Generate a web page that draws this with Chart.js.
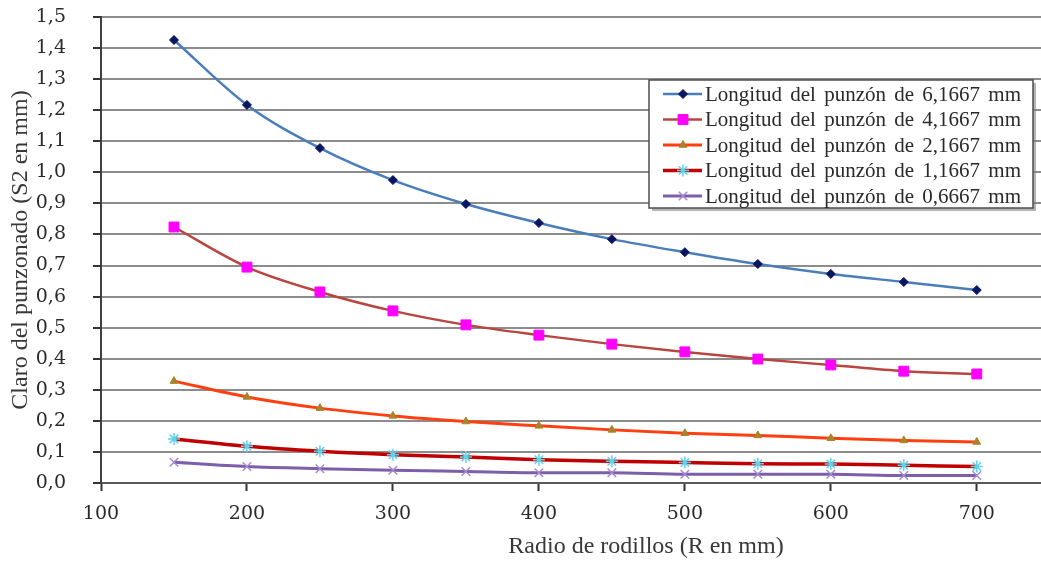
<!DOCTYPE html>
<html><head><meta charset="utf-8">
<script src="https://cdn.jsdelivr.net/npm/chart.js@4.4.1/dist/chart.umd.min.js"></script>
<style>html,body{margin:0;padding:0;background:#fff;overflow:hidden}#wrap{width:1041px;height:564px;position:relative}</style>
</head><body><div id="wrap"><canvas id="c"></canvas></div>
<script>
// ---- data ----
const radios = [150, 200, 250, 300, 350, 400, 450, 500, 550, 600, 650, 700];
const serie6_1667 = [1.426, 1.217, 1.078, 0.975, 0.898, 0.837, 0.785, 0.743, 0.705, 0.673, 0.647, 0.621];
const serie4_1667 = [0.824, 0.695, 0.615, 0.554, 0.509, 0.476, 0.447, 0.422, 0.399, 0.380, 0.360, 0.351];
const serie2_1667 = [0.328, 0.277, 0.241, 0.216, 0.198, 0.184, 0.171, 0.160, 0.153, 0.144, 0.137, 0.132];
const serie1_1667 = [0.142, 0.118, 0.102, 0.091, 0.084, 0.075, 0.070, 0.066, 0.062, 0.061, 0.057, 0.053];
const serie0_6667 = [0.067, 0.053, 0.046, 0.041, 0.037, 0.033, 0.033, 0.028, 0.028, 0.028, 0.024, 0.024];
const seriesLabels = [
  'Longitud del punzón de 6,1667 mm',
  'Longitud del punzón de 4,1667 mm',
  'Longitud del punzón de 2,1667 mm',
  'Longitud del punzón de 1,1667 mm',
  'Longitud del punzón de 0,6667 mm'
];
const xTicks = [100, 200, 300, 400, 500, 600, 700];
const yTicks = [0, 0.1, 0.2, 0.3, 0.4, 0.5, 0.6, 0.7, 0.8, 0.9, 1.0, 1.1, 1.2, 1.3, 1.4, 1.5];
const xTitle = 'Radio de rodillos (R en mm)';
const yTitle = 'Claro del punzonado (S2 en mm)';

// ---- styles ----
const styles = [
  {line: '#4a7ebb', width: 2.5, point: 'rectRot', r: 4.5, fill: '#0a1560', stroke: '#0a1560', pbw: 1},
  {line: '#b8453f', width: 2.5, point: 'rect', r: 7, fill: '#ff00ff', stroke: '#ff00ff', pbw: 1},
  {line: '#ff3f10', width: 3, point: 'triangle', r: 4.5, fill: '#a8832a', stroke: '#a8832a', pbw: 1},
  {line: '#c00000', width: 3.5, point: 'star', r: 6, fill: '#5fd3ee', stroke: '#5fd3ee', pbw: 1.5},
  {line: '#7d5ea8', width: 3, point: 'crossRot', r: 6, fill: '#a58ad0', stroke: '#a58ad0', pbw: 1.5}
];
const seriesValues = [serie6_1667, serie4_1667, serie2_1667, serie1_1667, serie0_6667];

const datasets = seriesValues.map((vals, i) => ({
  label: seriesLabels[i],
  data: radios.map((x, k) => ({x: x, y: vals[k]})),
  borderColor: styles[i].line,
  borderWidth: styles[i].width,
  pointStyle: styles[i].point,
  pointRadius: styles[i].r,
  pointBackgroundColor: styles[i].fill,
  pointBorderColor: styles[i].stroke,
  pointBorderWidth: styles[i].pbw,
  cubicInterpolationMode: 'monotone',
  fill: false
}));

const insideLegend = {
  id: 'insideLegend',
  afterDraw(chart) {
    const ctx = chart.ctx;
    const bx = 649, by = 80, bw = 384, bh = 128;
    ctx.save();
    ctx.fillStyle = 'rgba(120,120,120,0.55)';
    ctx.fillRect(bx + 3, by + 3, bw, bh);
    ctx.fillStyle = '#ffffff';
    ctx.fillRect(bx, by, bw, bh);
    ctx.strokeStyle = '#4d4d4d';
    ctx.lineWidth = 1.5;
    ctx.strokeRect(bx, by, bw, bh);
    ctx.font = '21px "Liberation Serif"';
    ctx.textBaseline = 'middle';
    ctx.textAlign = 'left';
    try { ctx.wordSpacing = '3px'; } catch (e) {}
    chart.data.datasets.forEach((ds, i) => {
      const y = by + 14 + i * 25.5;
      ctx.strokeStyle = ds.borderColor;
      ctx.lineWidth = ds.borderWidth;
      ctx.beginPath();
      ctx.moveTo(bx + 14, y);
      ctx.lineTo(bx + 53, y);
      ctx.stroke();
      ctx.fillStyle = ds.pointBackgroundColor;
      ctx.strokeStyle = ds.pointBorderColor;
      ctx.lineWidth = ds.pointBorderWidth;
      Chart.helpers.drawPoint(ctx, {pointStyle: ds.pointStyle, radius: ds.pointRadius, borderWidth: ds.pointBorderWidth, rotation: 0}, bx + 34, y);
      ctx.fillStyle = '#2a2a2a';
      ctx.fillText(ds.label, bx + 56, y + 1);
    });
    ctx.restore();
  }
};

const xAxisTitle = {
  id: 'xAxisTitle',
  afterDraw(chart) {
    const ctx = chart.ctx;
    ctx.save();
    ctx.font = '24px "Liberation Serif"';
    ctx.fillStyle = '#383838';
    ctx.textAlign = 'center';
    ctx.textBaseline = 'middle';
    ctx.fillText(xTitle, 646, 547);
    ctx.restore();
  }
};

new Chart(document.getElementById('c'), {
  type: 'line',
  data: {datasets: datasets},
  options: {
    responsive: true,
    maintainAspectRatio: false,
    animation: false,
    layout: {autoPadding: false, padding: {top: 17, left: 0, right: 0, bottom: 0}},
    plugins: {legend: {display: false}, tooltip: {enabled: false}},
    scales: {
      x: {
        type: 'linear', min: 100, max: 744,
        afterBuildTicks: s => { s.ticks = xTicks.map(v => ({value: v})); },
        afterFit: s => { s.height = 81; s.paddingLeft = 0; s.paddingRight = 0; },
        grid: {drawOnChartArea: false, drawTicks: true, tickLength: 8, tickColor: '#333333', tickWidth: 2},
        border: {color: '#5a5a5a', width: 2},
        ticks: {font: {family: 'DejaVu Serif', size: 19}, color: '#2a2a2a', padding: 12, maxRotation: 0, autoSkip: false,
                callback: v => String(v)}
      },
      y: {
        type: 'linear', min: 0, max: 1.5,
        afterBuildTicks: s => { s.ticks = yTicks.map(v => ({value: v})); },
        afterFit: s => { s.width = 101; s.paddingTop = 0; s.paddingBottom = 0; },
        grid: {color: '#8c8c8c', lineWidth: 2, tickLength: 8, tickColor: '#333333', tickWidth: 2},
        border: {color: '#404040', width: 2},
        ticks: {font: {family: 'DejaVu Serif', size: 19}, color: '#2a2a2a', padding: 27, autoSkip: false,
                callback: v => Number(v).toFixed(1).replace('.', ',')},
        title: {display: true, text: yTitle, font: {family: 'Liberation Serif', size: 24}, color: '#383838', padding: {top: 6, bottom: 0}}
      }
    }
  },
  plugins: [insideLegend, xAxisTitle]
});
</script>
</body></html>
